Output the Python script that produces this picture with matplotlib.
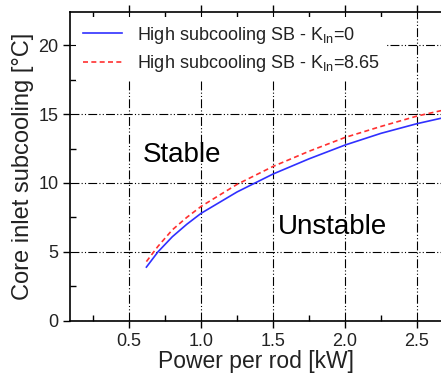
import matplotlib.pyplot as plt
from matplotlib.ticker import MultipleLocator

plt.rcParams['font.family'] = ['Liberation Sans', 'DejaVu Sans']

# curve
power = [0.62, 0.7, 0.8, 0.9, 1.0, 1.25, 1.5, 1.75, 2.0, 2.25, 2.5, 2.67]
sub_k0 = [3.9, 5.0, 6.1, 7.0, 7.8, 9.35, 10.65, 11.75, 12.75, 13.6, 14.3, 14.7]
sub_k865 = [4.3, 5.4, 6.6, 7.5, 8.3, 9.9, 11.2, 12.3, 13.3, 14.1, 14.85, 15.25]

fig = plt.figure(figsize=(4.41, 3.74), dpi=100)
ax = fig.add_axes([0.159, 0.142, 0.841, 0.826])

grid_style = dict(color='black', lw=0.8, dashes=(8, 2, 1, 2, 1, 2))
ax.grid(True, which='major', **grid_style)
ax.set_axisbelow(True)

ax.plot(power, sub_k0, color='#3030ff', lw=1.2,
        label='High subcooling SB - K$_{\\mathregular{In}}$=0')
ax.plot(power, sub_k865, color='#ff3030', lw=1.2, dashes=(3, 2),
        label='High subcooling SB - K$_{\\mathregular{In}}$=8.65')

ax.text(0.87, 12.0, 'Stable', fontsize=20, ha='center', va='center')
ax.text(1.91, 6.8, 'Unstable', fontsize=20, ha='center', va='center')

ax.set_xlim(0.09, 2.667)
ax.set_ylim(0, 22.4)
ax.xaxis.set_minor_locator(MultipleLocator(0.25))
ax.yaxis.set_major_locator(MultipleLocator(5))
ax.yaxis.set_minor_locator(MultipleLocator(2.5))
ax.set_xticks([0.5, 1.0, 1.5, 2.0, 2.5])
ax.set_xticklabels(['0.5', '1.0', '1.5', '2.0', '2.5'])

ax.tick_params(axis='both', which='major', labelsize=13, direction='out', length=5, width=1,
               labelcolor='#222222')
ax.tick_params(axis='both', which='minor', direction='in', length=4, width=1)
ax.tick_params(axis='x', which='both', top=True, bottom=True)
ax.spines['right'].set_visible(False)
for s in ['left', 'bottom', 'top']:
    ax.spines[s].set_linewidth(1.2)

ax.set_xlabel('Power per rod [kW]', fontsize=16.5, labelpad=0, color='#222222')
ax.set_ylabel('Core inlet subcooling [°C]', fontsize=17, labelpad=3, color='#222222')

leg = ax.legend(loc='upper left', fontsize=13, frameon=True, fancybox=False,
                edgecolor='white', framealpha=1, handlelength=2.2,
                borderaxespad=0.3, labelspacing=0.4)
leg.get_frame().set_linewidth(0)
for t in leg.get_texts():
    t.set_color('#222222')

fig.savefig('out.png', dpi=100)
